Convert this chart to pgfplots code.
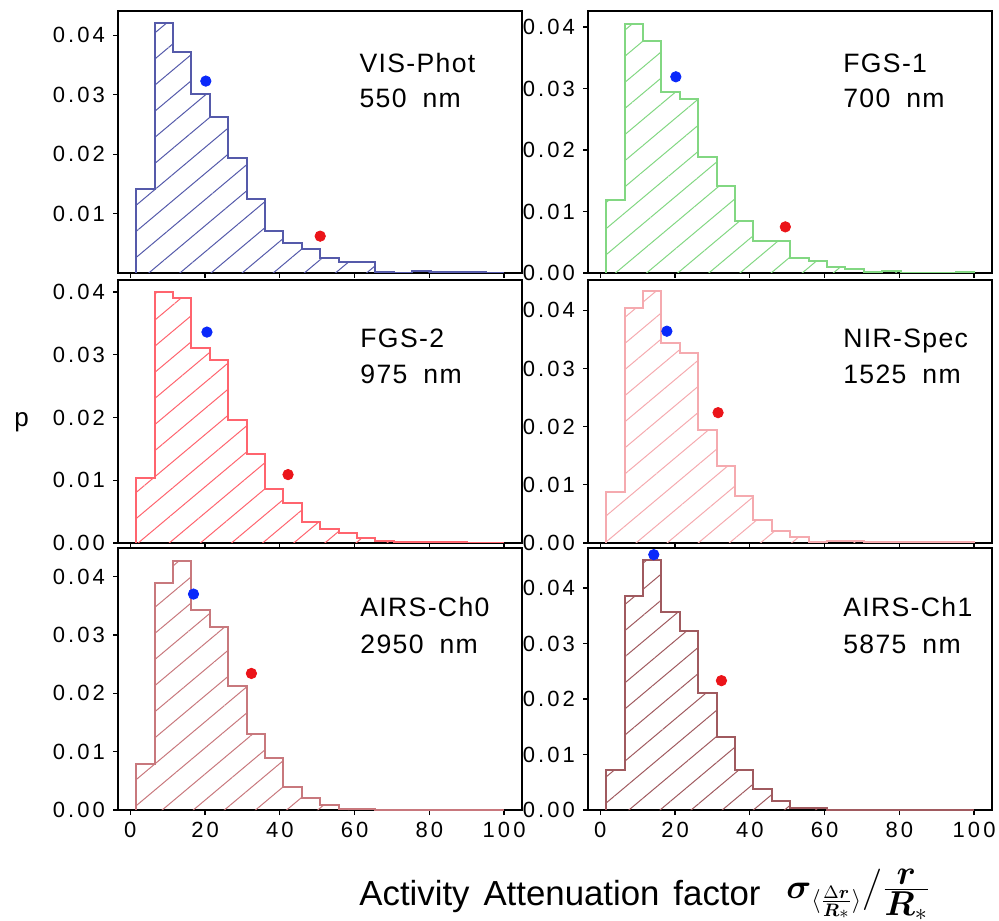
\documentclass[border=0pt]{standalone}
\usepackage{pgfplots}
\pgfplotsset{compat=1.18}
\usepackage{amsmath}
\usepackage{fontspec}
\setmainfont{Liberation Sans}
\newfontfamily\tickfont[LetterSpace=14]{Liberation Sans}
\newfontfamily\lblfont[LetterSpace=5]{Liberation Sans}
\usetikzlibrary{patterns.meta}

\definecolor{visc}{RGB}{85,90,170}
\definecolor{fgsac}{RGB}{130,215,130}
\definecolor{fgsbc}{RGB}{255,100,110}
\definecolor{nirc}{RGB}{245,170,175}
\definecolor{chzc}{RGB}{200,120,125}
\definecolor{choc}{RGB}{160,90,95}
\definecolor{dotblue}{RGB}{10,40,250}
\definecolor{dotred}{RGB}{235,20,25}

\tikzset{lbl/.style={anchor=base west, inner sep=0pt, font=\lblfont\fontsize{13.3}{16}\selectfont}}

\pgfplotsset{
  panel/.style={
    scale only axis, width=202pt, height=131pt,
    xmin=-3.3, xmax=104.8, ymin=0,
    xtick={0,20,40,60,80,100},
    ytick={0,0.01,0.02,0.03,0.04},
    xtick pos=left, ytick pos=left,
    tick align=outside, major tick length=2.5pt,
    axis line style={line width=0.6pt},
    tick style={black, line width=0.6pt},
    ticklabel style={font=\tickfont\fontsize{11}{12}\selectfont},
    yticklabel style={xshift=-0.5pt},
    /pgf/number format/assume math mode=true,
    scaled y ticks=false,
    yticklabel style={/pgf/number format/fixed, /pgf/number format/fixed zerofill, /pgf/number format/precision=2},
  },
  nox/.style={xticklabels={}},
  hist/.style={const plot, line width=1pt, draw=#1,
    pattern={Lines[angle=40,distance=10pt,line width=0.5pt]}, pattern color=#1},
  bdot/.style={only marks, mark=*, mark size=2.6pt, color=dotblue},
  rdot/.style={only marks, mark=*, mark size=2.6pt, color=dotred},
}

\begin{document}
\begin{tikzpicture}
\useasboundingbox (0pt,0pt) rectangle (499.5pt,460pt);

% ---------- VIS-Phot ----------
\begin{axis}[panel, nox, at={(59pt,323.5pt)}, anchor=south west, ymax=0.0441,
  ytick={0.01,0.02,0.03,0.04}]
\addplot[hist=visc] coordinates {
(1.6,0) (1.6,0.0142) (6.52,0.0421) (11.44,0.0372) (16.36,0.0301) (21.28,0.0263)
(26.2,0.0194) (31.12,0.0124) (36.04,0.0071) (40.96,0.0051) (45.88,0.0040)
(50.8,0.0025) (55.72,0.0019) (60.64,0.0019) (65.56,0.0002) (70.48,0.0000)
(75.4,0.0003) (80.32,0.0001) (85.24,0.0001) (90.16,0.0001) (95.08,0.0000)
(100,0.0000) (100,0)};
\addplot[bdot] coordinates {(20.2,0.0323)};
\addplot[rdot] coordinates {(50.8,0.0062)};
\node[lbl] at (rel axis cs:0.597,0.767) {VIS-Phot};
\node[lbl] at (rel axis cs:0.597,0.630) {550\hspace{0.6em}nm};
\end{axis}

% ---------- FGS-1 ----------
\begin{axis}[panel, nox, at={(294pt,323.5pt)}, anchor=south west, ymax=0.0426]
\addplot[hist=fgsac] coordinates {
(1.6,0) (1.6,0.0118) (6.52,0.0405) (11.44,0.0378) (16.36,0.0295) (21.28,0.0283)
(26.2,0.0189) (31.12,0.0141) (36.04,0.0084) (40.96,0.0052) (45.88,0.0052)
(50.8,0.0024) (55.72,0.0019) (60.64,0.0010) (65.56,0.0007) (70.48,0.0002)
(75.4,0.0003) (80.32,0.0000) (85.24,0.0000) (90.16,0.0000) (95.08,0.0001)
(100,0.0001) (100,0)};
\addplot[bdot] coordinates {(20.2,0.0319)};
\addplot[rdot] coordinates {(49.5,0.0075)};
\node[lbl] at (rel axis cs:0.631,0.767) {FGS-1};
\node[lbl] at (rel axis cs:0.631,0.630) {700\hspace{0.6em}nm};
\end{axis}

% ---------- FGS-2 ----------
\begin{axis}[panel, nox, at={(59pt,188.5pt)}, anchor=south west, height=131.5pt, ymax=0.0419]
\addplot[hist=fgsbc] coordinates {
(1.6,0) (1.6,0.0104) (6.52,0.0400) (11.44,0.0390) (16.36,0.0310) (21.28,0.0291)
(26.2,0.0196) (31.12,0.0142) (36.04,0.0086) (40.96,0.0064) (45.88,0.0033)
(50.8,0.0023) (55.72,0.0016) (60.64,0.0008) (65.56,0.0003) (70.48,0.0001)
(75.4,0.0001) (80.32,0.0001) (85.24,0.0002) (90.16,0.0000) (95.08,0.0000)
(100,0.0000) (100,0)};
\addplot[bdot] coordinates {(20.5,0.0336)};
\addplot[rdot] coordinates {(42.2,0.0109)};
\node[lbl] at (rel axis cs:0.599,0.745) {FGS-2};
\node[lbl] at (rel axis cs:0.599,0.608) {975\hspace{0.6em}nm};
\end{axis}

% ---------- NIR-Spec ----------
\begin{axis}[panel, nox, at={(294pt,188.5pt)}, anchor=south west, height=131.5pt, ymax=0.0452]
\addplot[hist=nirc] coordinates {
(1.6,0) (1.6,0.0088) (6.52,0.0404) (11.44,0.0433) (16.36,0.0343) (21.28,0.0327)
(26.2,0.0194) (31.12,0.0132) (36.04,0.0080) (40.96,0.0039) (45.88,0.0020)
(50.8,0.0010) (55.72,0.0002) (60.64,0.0003) (65.56,0.0003) (70.48,0.0001)
(75.4,0.0001) (80.32,0.0001) (85.24,0.0001) (90.16,0.0001) (95.08,0.0001)
(100,0.0001) (100,0)};
\addplot[bdot] coordinates {(17.8,0.0364)};
\addplot[rdot] coordinates {(31.5,0.0224)};
\node[lbl] at (rel axis cs:0.631,0.745) {NIR-Spec};
\node[lbl] at (rel axis cs:0.631,0.608) {1525\hspace{0.6em}nm};
\end{axis}

% ---------- AIRS-Ch0 ----------
\begin{axis}[panel, at={(59pt,55pt)}, anchor=south west, ymax=0.0449]
\addplot[hist=chzc] coordinates {
(1.6,0) (1.6,0.0079) (6.52,0.0389) (11.44,0.0427) (16.36,0.0342) (21.28,0.0313)
(26.2,0.0213) (31.12,0.0131) (36.04,0.0089) (40.96,0.0039) (45.88,0.0021)
(50.8,0.0009) (55.72,0.0002) (60.64,0.0002) (65.56,0.0000) (70.48,0.0000)
(75.4,0.0000) (80.32,0.0000) (85.24,0.0000) (90.16,0.0000) (95.08,0.0000)
(100,0.0000) (100,0)};
\addplot[bdot] coordinates {(16.9,0.0370)};
\addplot[rdot] coordinates {(32.4,0.0234)};
\node[lbl] at (rel axis cs:0.599,0.737) {AIRS-Ch0};
\node[lbl] at (rel axis cs:0.599,0.599) {2950\hspace{0.6em}nm};
\end{axis}

% ---------- AIRS-Ch1 ----------
\begin{axis}[panel, at={(294pt,55pt)}, anchor=south west, ymax=0.0472]
\addplot[hist=choc] coordinates {
(1.6,0) (1.6,0.0072) (6.52,0.0385) (11.44,0.0450) (16.36,0.0357) (21.28,0.0322)
(26.2,0.0210) (31.12,0.0132) (36.04,0.0072) (40.96,0.0037) (45.88,0.0016)
(50.8,0.0003) (55.72,0.0003) (60.64,0.0000) (65.56,0.0000) (70.48,0.0000)
(75.4,0.0000) (80.32,0.0000) (85.24,0.0000) (90.16,0.0000) (95.08,0.0000)
(100,0.0000) (100,0)};
\addplot[bdot] coordinates {(14.3,0.0460)};
\addplot[rdot] coordinates {(32.4,0.0233)};
\node[lbl] at (rel axis cs:0.631,0.737) {AIRS-Ch1};
\node[lbl] at (rel axis cs:0.631,0.599) {5875\hspace{0.6em}nm};
\end{axis}

% ---------- labels ----------
\node[anchor=base, inner sep=0pt, font=\fontsize{13}{15}\selectfont] at (10.8pt,246.5pt) {p};
\node[anchor=base west, inner sep=0pt, font=\fontsize{17.4}{20}\selectfont] at (179.5pt,7.5pt)
  {Activity\hspace{0.4em}Attenuation\hspace{0.4em}factor};
\node[anchor=base west, inner sep=0pt, font=\fontsize{18}{20}\selectfont] at (393pt,11pt)
  {$\boldsymbol{\sigma}_{\langle\frac{\Delta\boldsymbol{r}}{\boldsymbol{R}_*}\rangle}\big/\tfrac{\displaystyle\boldsymbol{r}}{\displaystyle\boldsymbol{R}_*}$};
\end{tikzpicture}
\end{document}
